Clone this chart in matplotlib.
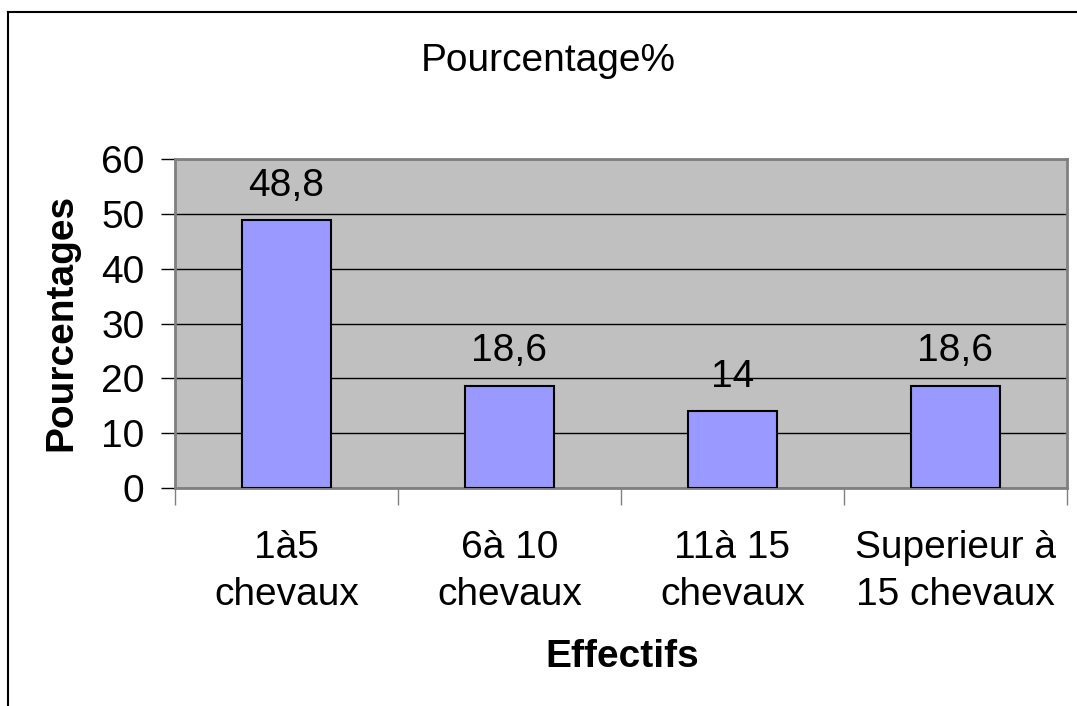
import matplotlib.pyplot as plt
from matplotlib.lines import Line2D

plt.rcParams['font.family'] = ['Liberation Sans', 'DejaVu Sans']

categories = ["1à5\nchevaux", "6à 10\nchevaux", "11à 15\nchevaux", "Superieur à\n15 chevaux"]
values = [48.8, 18.6, 14, 18.6]
value_labels = ["48,8", "18,6", "14", "18,6"]
yticks = [0, 10, 20, 30, 40, 50, 60]

fig = plt.figure(figsize=(10.77, 7.06), dpi=100)
W, H = 1077, 706
FS = 28

# bordure du graphique (gauche et haut seulement visibles)
fig.add_artist(Line2D([8 / W, 8 / W], [0, 1 - 12 / H], color="black", lw=1.5))
fig.add_artist(Line2D([8 / W, 1], [1 - 12 / H, 1 - 12 / H], color="black", lw=1.5))

ax = fig.add_axes([175 / W, 1 - 488 / H, (1067 - 175) / W, (488 - 159) / H])
ax.set_facecolor("#C0C0C0")

x = list(range(len(categories)))
ax.bar(x, values, width=0.4, color="#9999FF", edgecolor="black", linewidth=1.5, zorder=3)
for xi, v, lab in zip(x, values, value_labels):
    ax.annotate(lab, (xi, v), xytext=(0, 12), textcoords="offset points",
                ha="center", va="bottom", fontsize=FS)

ax.set_xlim(-0.5, len(categories) - 0.5)
ax.set_ylim(0, 60)
ax.set_yticks(yticks)
ax.set_yticklabels([str(t) for t in yticks], fontsize=FS)
ax.yaxis.grid(True, color="black", lw=1, zorder=1)
ax.set_axisbelow(True)
ax.tick_params(axis="y", length=10, width=1, color="black", pad=12)

# graduations x entre les catégories
ax.set_xticks([i - 0.5 for i in range(len(categories) + 1)])
ax.set_xticklabels([])
ax.tick_params(axis="x", length=12, width=1, color="#808080", direction="out")
ax.set_xticks(x, minor=True)
ax.set_xticklabels(categories, minor=True, fontsize=FS, linespacing=1.4)
ax.tick_params(axis="x", which="minor", length=0, pad=30)

for s in ax.spines.values():
    s.set_color("#808080")
    s.set_linewidth(2)

fig.text(622 / W, 1 - 657 / H, "Effectifs", ha="center", va="center",
         fontsize=FS, fontweight="bold")
fig.text(61 / W, 1 - 322 / H, "Pourcentages", ha="center", va="center",
         rotation=90, fontsize=FS, fontweight="bold")
fig.text(548 / W, 1 - 61 / H, "Pourcentage%", ha="center", va="center", fontsize=FS)

fig.savefig("out.png", dpi=100)
